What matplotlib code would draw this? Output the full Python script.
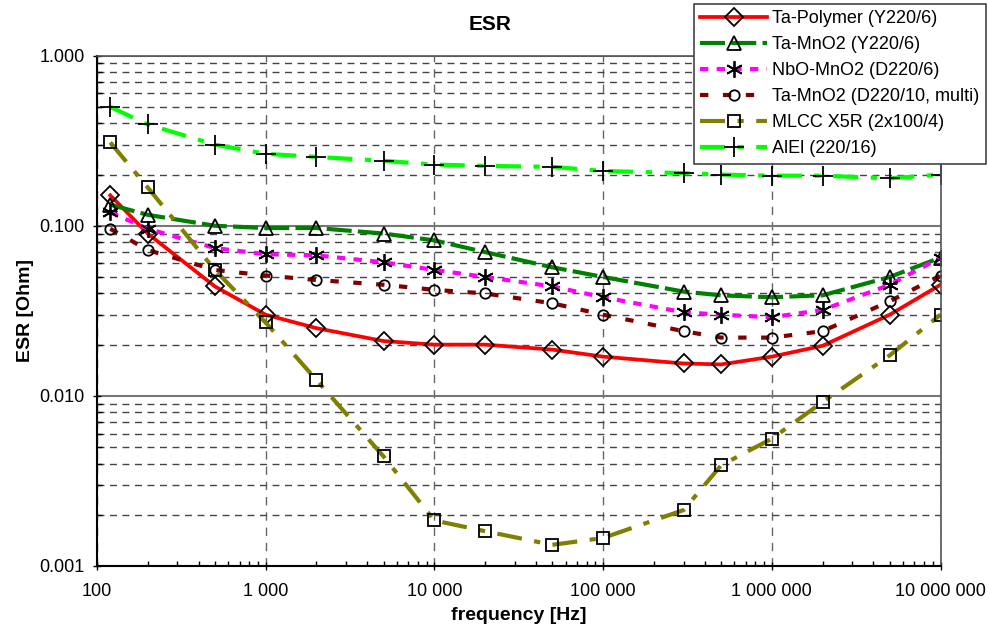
import matplotlib
matplotlib.use('Agg')
import matplotlib.pyplot as plt
from matplotlib.ticker import FixedLocator, FuncFormatter, LogLocator, NullFormatter

plt.rcParams['font.family'] = ['Liberation Sans', 'DejaVu Sans']

# frequencies [Hz]
freq = [120, 200, 500, 1000, 2000, 5000, 10000, 20000, 50000, 100000,
        300000, 500000, 1000000, 2000000, 5000000, 10000000]

# ESR [Ohm]
ta_polymer = [0.151, 0.090, 0.044, 0.030, 0.025, 0.021, 0.020, 0.020, 0.0187, 0.017,
              0.0155, 0.0153, 0.017, 0.0197, 0.030, 0.045]
ta_mno2_y = [0.133, 0.116, 0.100, 0.097, 0.097, 0.090, 0.082, 0.070, 0.057, 0.050,
             0.041, 0.039, 0.038, 0.039, 0.050, 0.065]
nbo_mno2 = [0.120, 0.096, 0.074, 0.068, 0.067, 0.061, 0.055, 0.050, 0.044, 0.038,
            0.031, 0.030, 0.029, 0.032, 0.045, 0.065]
ta_mno2_d = [0.096, 0.072, 0.055, 0.051, 0.048, 0.045, 0.042, 0.040, 0.035, 0.030,
             0.024, 0.022, 0.022, 0.024, 0.036, 0.051]
mlcc = [0.309, 0.168, 0.055, 0.027, 0.0124, 0.0044, 0.00185, 0.0016, 0.00133, 0.00146,
        0.00213, 0.0039, 0.0056, 0.0092, 0.0173, 0.030]
alel = [0.50, 0.394, 0.30, 0.265, 0.254, 0.241, 0.229, 0.225, 0.222, 0.21,
        0.204, 0.200, 0.197, 0.197, 0.190, 0.200]

fig = plt.figure(figsize=(9.89, 6.33), dpi=100)
ax = fig.add_axes([0.098, 0.106, 0.853, 0.806])

mk = dict(mec='black', mfc='none', mew=1.3)
ax.plot(freq, ta_polymer, color='red', lw=2.7, marker='D', ms=9, label='Ta-Polymer (Y220/6)', **mk)
ax.plot(freq, ta_mno2_y, color='#008000', lw=3, dashes=(6, 1.5), marker='^', ms=10,
        label='Ta-MnO2 (Y220/6)', **mk)
ax.plot(freq, nbo_mno2, color='magenta', lw=3, dashes=(2, 2), marker=(6, 2, 0), ms=12,
        label='NbO-MnO2 (D220/6)', **mk)
ax.plot(freq, ta_mno2_d, color='#800000', lw=3, dashes=(2, 3.5), marker='o', ms=7.5,
        label='Ta-MnO2 (D220/10, multi)', **mk)
ax.plot(freq, mlcc, color='#808000', lw=3, dashes=(6, 3, 1.5, 3), marker='s', ms=8,
        label='MLCC X5R (2x100/4)', **mk)
ax.plot(freq, alel, color='#00ff00', lw=3, dashes=(6, 3, 1.5, 3), marker='+', ms=14,
        label='AlEl (220/16)', **mk)

ax.set_xscale('log')
ax.set_yscale('log')
ax.set_xlim(100, 1e7)
ax.set_ylim(0.001, 1)

ax.xaxis.set_major_locator(FixedLocator([1e2, 1e3, 1e4, 1e5, 1e6, 1e7]))
ax.xaxis.set_major_formatter(FuncFormatter(lambda v, p: f'{int(round(v)):,}'.replace(',', ' ')))
ax.xaxis.set_minor_locator(LogLocator(base=10, subs=range(2, 10)))
ax.xaxis.set_minor_formatter(NullFormatter())
ax.yaxis.set_major_locator(FixedLocator([0.001, 0.01, 0.1, 1]))
ax.yaxis.set_major_formatter(FuncFormatter(lambda v, p: f'{v:.3f}'))
ax.yaxis.set_minor_locator(LogLocator(base=10, subs=range(2, 10)))
ax.yaxis.set_minor_formatter(NullFormatter())

ax.tick_params(axis='both', which='major', labelsize=13, length=6, direction='inout', width=1)
ax.tick_params(axis='both', which='minor', length=3.5, direction='in', width=1)
ax.tick_params(axis='x', which='major', pad=9)
ax.tick_params(axis='y', which='major', pad=6)

ax.grid(True, axis='y', which='major', color='#777777', lw=1.5, ls='-')
ax.grid(True, axis='y', which='minor', color='#444444', lw=1, ls=(0, (5, 4)))
ax.grid(True, axis='x', which='major', color='#666666', lw=1, ls=(0, (6, 5)))

for s in ['left', 'bottom']:
    ax.spines[s].set_color('black')
    ax.spines[s].set_linewidth(1.5)
for s in ['top', 'right']:
    ax.spines[s].set_color('#555555')
    ax.spines[s].set_linewidth(1.2)

ax.set_xlabel('frequency [Hz]', fontsize=14, fontweight='bold', labelpad=5)
ax.set_ylabel('ESR [Ohm]', fontsize=14, fontweight='bold', labelpad=4)
fig.text(0.496, 0.962, 'ESR', fontsize=15, fontweight='bold', ha='center', va='center')

leg = fig.legend(loc='upper right', bbox_to_anchor=(0.997, 0.994), fontsize=13,
                 handlelength=3.7, labelspacing=0.5, borderpad=0.35, handletextpad=0.3,
                 borderaxespad=0, frameon=True, fancybox=False, edgecolor='#444444',
                 framealpha=1)
leg.get_frame().set_linewidth(1.2)

fig.savefig('out.png', dpi=100)
